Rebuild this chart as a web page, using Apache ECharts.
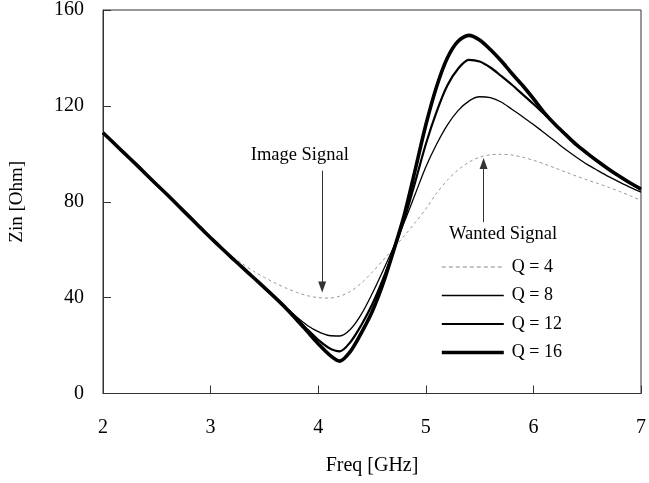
<!DOCTYPE html>
<html>
<head>
<meta charset="utf-8">
<script src="https://cdn.jsdelivr.net/npm/echarts@6/dist/echarts.min.js"></script>
<style>html,body{margin:0;padding:0;background:#fff;}#c{width:649px;height:483px;}</style>
</head>
<body>
<div id="c"></div>
<script>
const freq = [2.0,2.1,2.2,2.3,2.4,2.5,2.6,2.7,2.8,2.9,3.0,3.1,3.2,3.3,3.4,3.5,3.6,3.7,3.8,3.9,4.0,4.1,4.2,4.3,4.4,4.5,4.6,4.7,4.8,4.9,5.0,5.1,5.2,5.3,5.4,5.5,5.6,5.7,5.8,5.9,6.0,6.1,6.2,6.3,6.4,6.5,6.6,6.7,6.8,6.9,7.0];
const q4  = [108.8,104.5,100.2,95.9,91.5,87.1,82.8,78.3,73.9,69.4,65.0,60.8,57.2,54.0,51.0,48.4,46.1,44.0,42.2,40.8,40.0,39.8,40.6,42.6,46.0,50.5,55.5,60.5,65.8,71.2,77.0,83.5,89.0,93.3,96.5,98.6,99.6,99.8,99.5,98.6,97.3,95.8,94.1,92.4,90.7,89.1,87.6,86.0,84.3,82.5,80.6];
const q8  = [108.8,104.5,100.2,95.9,91.5,87.1,82.8,78.3,73.9,69.4,65.0,60.7,56.5,52.4,48.3,44.2,40.1,36.0,31.9,28.4,25.8,24.2,24.0,26.8,33.0,41.5,51.0,61.0,71.5,83.0,94.5,104.0,112.0,118.0,122.0,123.8,123.4,121.6,118.6,115.5,112.2,108.8,105.3,101.8,98.6,95.6,93.0,90.5,88.2,86.0,84.0];
const q12 = [108.8,104.5,100.2,95.9,91.5,87.1,82.8,78.3,73.9,69.4,65.0,60.7,56.5,52.4,48.3,44.2,40.0,35.8,31.3,26.7,22.4,19.0,17.6,21.5,28.5,37.0,47.5,59.5,72.5,88.0,104.0,117.5,128.5,135.5,139.2,138.5,136.0,132.5,128.8,124.8,120.8,116.6,112.3,108.0,104.0,100.3,96.8,93.5,90.5,87.7,85.0];
const q16 = [108.8,104.5,100.2,95.9,91.5,87.1,82.8,78.3,73.9,69.4,65.0,60.7,56.5,52.4,48.3,44.2,40.0,35.6,30.8,25.8,20.8,16.3,13.5,17.6,25.2,34.0,45.5,59.5,74.5,93.0,112.0,128.0,140.0,147.0,149.4,147.5,143.5,138.8,133.5,128.5,123.0,117.2,112.3,108.0,103.8,100.2,96.8,93.6,90.6,87.8,85.3];
const seriesNames = ['Q = 4','Q = 8','Q = 12','Q = 16'];
const xTicks = [2,3,4,5,6,7];
const yTicks = [0,40,80,120,160];
const imageArrow = [[4.037, 93], [4.037, 44.4]];
const wantedArrow = [[5.537, 71.5], [5.537, 96]];
const imageLabel = {text: 'Image Signal', at: [3.829, 99.4]};
const wantedLabel = {text: 'Wanted Signal', at: [5.718, 66.5]};

const FONT = 'Liberation Serif';
const pairs = arr => freq.map((f, i) => [f, arr[i]]);
const styles = [
  {color: '#999', width: 1, type: [3, 3]},
  {color: '#000', width: 1.3, type: 'solid'},
  {color: '#000', width: 2.2, type: 'solid'},
  {color: '#000', width: 3.6, type: 'solid'}
];
const legendStyles = [
  {color: '#888', width: 1.2, type: [4, 3]},
  {color: '#000', width: 1.3, type: 'solid'},
  {color: '#000', width: 2.2, type: 'solid'},
  {color: '#000', width: 3.6, type: 'solid'}
];

const chart = echarts.init(document.getElementById('c'), null, {renderer: 'canvas'});
const option = {
  animation: false,
  backgroundColor: '#fff',
  textStyle: {fontFamily: FONT},
  grid: {left: 102, right: 6, top: 9, bottom: 89.5, show: true, borderColor: '#333', borderWidth: 1},
  legend: {
    orient: 'vertical', left: 440, top: 258, padding: 0, itemWidth: 62, itemHeight: 18, itemGap: 10.5,
    selectedMode: false,
    itemStyle: {opacity: 0, borderWidth: 0},
    textStyle: {fontFamily: FONT, fontSize: 18, color: '#000', padding: [0, 0, 0, 3]},
    data: seriesNames.map((n, i) => ({name: n, lineStyle: legendStyles[i], itemStyle: {opacity: 0}}))
  },
  xAxis: {
    type: 'value', min: xTicks[0], max: xTicks[xTicks.length - 1], interval: 1,
    name: 'Freq [GHz]', nameLocation: 'middle', nameGap: 62,
    nameTextStyle: {fontFamily: FONT, fontSize: 20, color: '#000'},
    axisLine: {lineStyle: {color: '#333', width: 1}},
    axisTick: {inside: true, length: 8, lineStyle: {color: '#333'}},
    axisLabel: {fontFamily: FONT, fontSize: 20, color: '#000', margin: 24},
    splitLine: {show: false}
  },
  yAxis: {
    type: 'value', min: yTicks[0], max: yTicks[yTicks.length - 1], interval: 40,
    name: 'Zin [Ohm]', nameLocation: 'middle', nameGap: 76,
    nameTextStyle: {fontFamily: FONT, fontSize: 19, color: '#000'},
    axisLine: {show: true, lineStyle: {color: '#333', width: 1}},
    axisTick: {show: true, inside: true, length: 8, lineStyle: {color: '#333'}},
    axisLabel: {fontFamily: FONT, fontSize: 20, color: '#000', margin: 19},
    splitLine: {show: false}
  },
  series: seriesNames.map((n, i) => ({
    name: n, type: 'line', data: pairs([q4, q8, q12, q16][i]), symbol: 'none', smooth: 0.3,
    lineStyle: styles[i], itemStyle: {color: styles[i].color}
  }))
};
option.series[3].markLine = {
  silent: true, symbol: ['none', 'triangle'], symbolSize: [8, 11],
  label: {show: false},
  lineStyle: {color: '#333', width: 1, type: 'solid'},
  emphasis: {disabled: true},
  data: [
    [{coord: imageArrow[0]}, {coord: imageArrow[1]}],
    [{coord: wantedArrow[0]}, {coord: wantedArrow[1]}]
  ]
};
chart.setOption(option);
const p1 = chart.convertToPixel({gridIndex: 0}, imageLabel.at);
const p2 = chart.convertToPixel({gridIndex: 0}, wantedLabel.at);
chart.setOption({
  graphic: [
    {type: 'text', x: p1[0], y: p1[1], style: {text: imageLabel.text, fontFamily: FONT, fontSize: 18.5, fill: '#000', align: 'center', verticalAlign: 'middle'}},
    {type: 'text', x: p2[0], y: p2[1], style: {text: wantedLabel.text, fontFamily: FONT, fontSize: 18.5, fill: '#000', align: 'center', verticalAlign: 'middle'}}
  ]
});
</script>
</body>
</html>
